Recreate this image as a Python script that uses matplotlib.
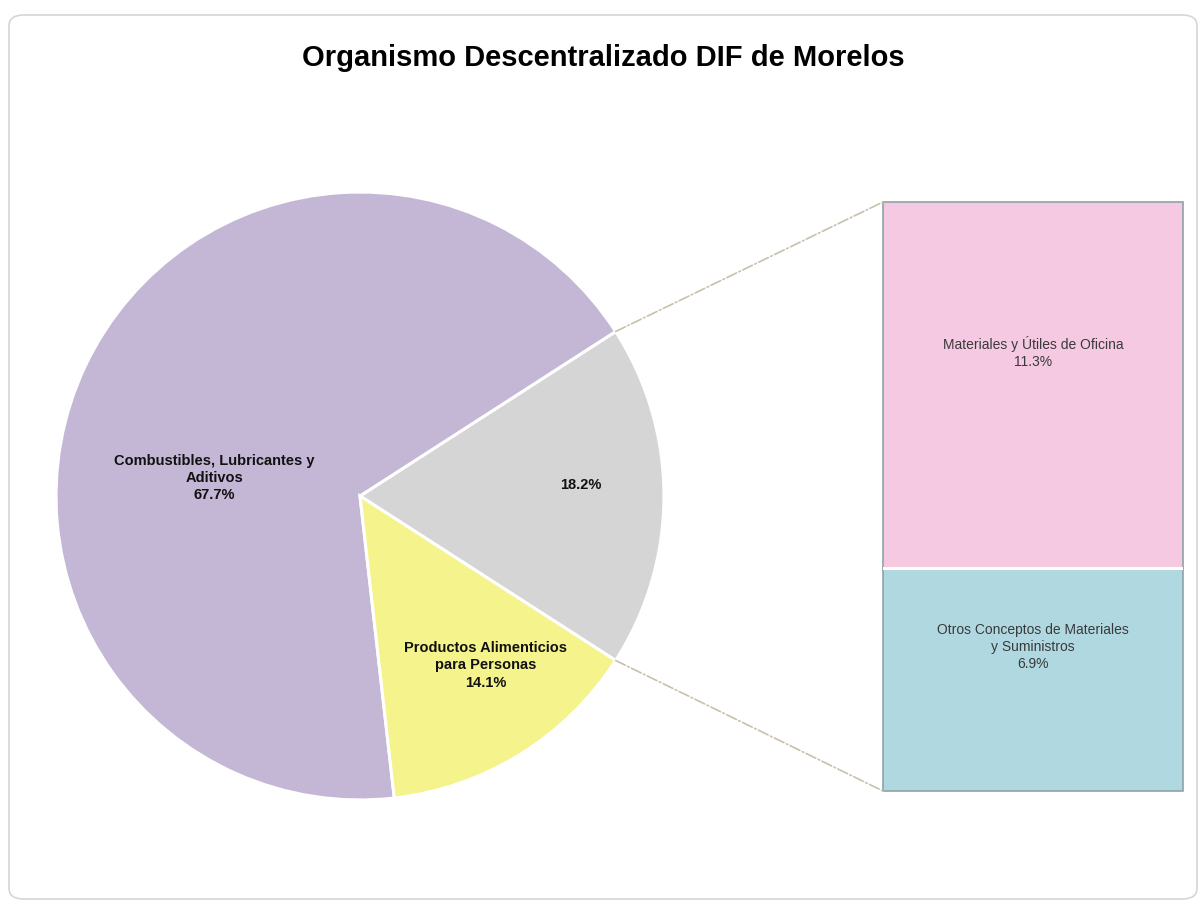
"""Pie-of-bar chart: Organismo Descentralizado DIF de Morelos."""

import numpy as np
import matplotlib
import matplotlib.pyplot as plt
from matplotlib.patches import FancyBboxPatch, ConnectionPatch

matplotlib.use("Agg")

plt.rcParams["font.family"] = ["Liberation Sans", "DejaVu Sans"]

# Data
pie_labels = [
    "18.2%",
    "Combustibles, Lubricantes y\nAditivos\n67.7%",
    "Productos Alimenticios\npara Personas\n14.1%",
]
pie_values = [18.2, 67.7, 14.1]
bar_labels = [
    "Otros Conceptos de Materiales\ny Suministros\n6.9%",
    "Materiales y Útiles de Oficina\n11.3%",
]
bar_values = [6.9, 11.3]

PIE_COLORS = ["#D5D5D6", "#C4B7D6", "#F4F38C"]
BAR_COLORS = ["#B0D8E0", "#F5C9E1"]
LINK_COLOR = "#C9C0AE"

W, H = 1202, 906
fig = plt.figure(figsize=(W / 100, H / 100), dpi=100)

# Rounded frame around the chart area
frame = FancyBboxPatch(
    (9 / W, 7 / H), 1188 / W, 884 / H,
    boxstyle="round,pad=0,rounding_size=0.012",
    transform=fig.transFigure, facecolor="white",
    edgecolor="#D6D6D6", lw=1.2, zorder=0,
)
fig.add_artist(frame)

fig.text(0.502, 1 - 58 / H, "Organismo Descentralizado DIF de Morelos",
         ha="center", va="center", fontsize=21, fontweight="bold", color="#000000")

# Pie axes (centre ~ (360, 496) px, radius ~ 307 px)
cx, cy, r = 360, 496, 307
ax_pie = fig.add_axes([(cx - r) / W, (H - cy - r) / H, 2 * r / W, 2 * r / H])
other_share = pie_values[0]
start = -other_share / 100 * 360 / 2
wedges, _ = ax_pie.pie(
    pie_values, colors=PIE_COLORS, startangle=start, counterclock=True,
    wedgeprops=dict(edgecolor="white", linewidth=2.2),
)
# thin grey outer rim
ax_pie.pie(
    pie_values, colors=["none"] * 3, startangle=start, radius=1.0,
    wedgeprops=dict(edgecolor="#9C97A6", linewidth=0.9, fill=False),
)
for w in wedges:
    w.set_zorder(2)
ax_pie.set_xlim(-1.01, 1.01)
ax_pie.set_ylim(-1.01, 1.01)
ax_pie.set_aspect("equal")
ax_pie.axis("off")

label_xy = [(0.726, 0.036), (-0.479, 0.059), (0.414, -0.557)]
for (lx, ly), txt in zip(label_xy, pie_labels):
    ax_pie.text(lx, ly, txt, ha="center", va="center", fontsize=10.5,
                fontweight="bold", color="#111111", linespacing=1.3, zorder=5)

# Bar axes (x 883-1183 px, y 202-791 px)
bx0, bx1, by0, by1 = 883, 1183, 202, 791
ax_bar = fig.add_axes([bx0 / W, (H - by1) / H, (bx1 - bx0) / W, (by1 - by0) / H])
bottoms = np.concatenate([[0], np.cumsum(bar_values)[:-1]])
bars = ax_bar.bar([0.5] * len(bar_values), bar_values, bottom=bottoms, width=1.0,
                  color=BAR_COLORS, edgecolor="#8FA3A8", linewidth=1.2)
for b in bars:
    b.set_clip_on(False)
# white separation between stacked parts
ax_bar.axhline(bar_values[0], xmin=0.003, xmax=0.997, color="white", lw=2.2)
ax_bar.set_xlim(0, 1)
ax_bar.set_ylim(0, sum(bar_values))
ax_bar.axis("off")

for b, v, txt in zip(bottoms, bar_values, bar_labels):
    ax_bar.text(0.5, b + v / 2 + 1.0, txt, ha="center", va="center",
                fontsize=10, color="#3A3A3A", linespacing=1.3)

# Connector lines from the "other" wedge to the bar
theta1 = np.deg2rad(wedges[0].theta1)
theta2 = np.deg2rad(wedges[0].theta2)
for theta, ybar in [(theta2, sum(bar_values)), (theta1, 0)]:
    con = ConnectionPatch(
        xyA=(np.cos(theta), np.sin(theta)), coordsA=ax_pie.transData,
        xyB=(0, ybar), coordsB=ax_bar.transData,
        color=LINK_COLOR, linestyle="-.", lw=1.2,
    )
    fig.add_artist(con)

fig.savefig("out.png", dpi=100)
plt.close(fig)
